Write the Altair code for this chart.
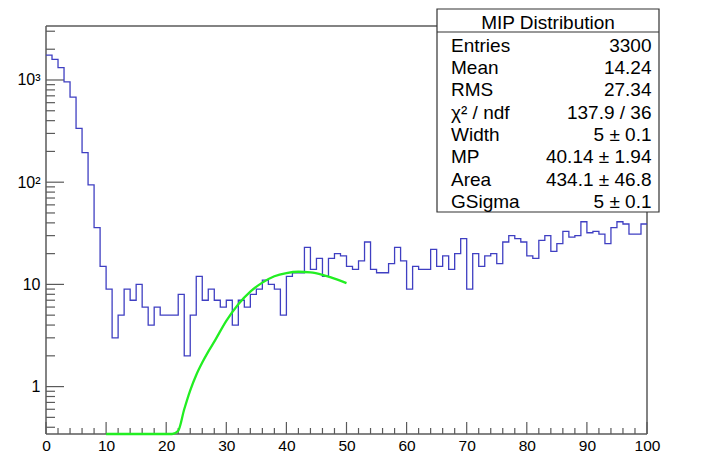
import altair as alt
import pandas as pd

# ---------------- data ----------------
bin_low_edges = list(range(100))
bin_counts = [
    1750, 1590, 1320, 960, 680, 336, 195, 94, 36, 15,
    9, 3, 5, 9, 7, 10, 6, 4, 6, 5,
    5, 5, 8, 2, 5, 12, 7, 9, 7, 6,
    7, 4, 7, 6, 8, 9, 11, 10, 9, 5,
    12, 13, 13, 23, 14, 18, 12, 18, 20, 19,
    15, 14, 17, 26, 14, 13, 13, 16, 23, 17,
    9, 15, 14, 14, 22, 15, 19, 14, 20, 28,
    9, 20, 15, 19, 20, 16, 26, 30, 28, 26,
    19, 18, 27, 30, 21, 25, 33, 29, 30, 41,
    32, 33, 31, 25, 36, 41, 39, 31, 31, 39,
]
bin_width = 1

fit_x = [10, 12, 14, 16, 18, 20, 21, 22, 23, 24, 25, 26, 27, 28, 30, 32, 34, 36, 38, 40, 42, 44, 46, 48, 50]
fit_y = [0.0005, 0.001, 0.003, 0.008, 0.02, 0.08, 0.2, 0.37, 0.6, 0.92, 1.3, 1.72, 2.2, 2.75, 4.4,
         6.4, 8.5, 10.4, 12.0, 12.9, 13.3, 13.1, 12.4, 11.4, 10.3]

x_major_ticks = [0, 10, 20, 30, 40, 50, 60, 70, 80, 90, 100]
x_minor_ticks = [2, 4, 6, 8, 12, 14, 16, 18, 22, 24, 26, 28, 32, 34, 36, 38, 42, 44, 46, 48,
                 52, 54, 56, 58, 62, 64, 66, 68, 72, 74, 76, 78, 82, 84, 86, 88, 92, 94, 96, 98]
y_major_ticks = [1, 10, 100, 1000]
y_tick_labels = ["1", "10", "10²", "10³"]
y_minor_ticks = [0.4, 0.5, 0.6, 0.7, 0.8, 0.9,
                 2, 3, 4, 5, 6, 7, 8, 9,
                 20, 30, 40, 50, 60, 70, 80, 90,
                 200, 300, 400, 500, 600, 700, 800, 900,
                 2000, 3000]
y_range = [0.3437, 3375]
x_range = [0, 100]

box_title = "MIP Distribution"
stat_labels = ["Entries", "Mean", "RMS", "χ² / ndf", "Width", "MP", "Area", "GSigma"]
stat_values = ["3300", "14.24", "27.34", "137.9 / 36", "5 ± 0.1", "40.14 ± 1.94", "434.1 ± 46.8", "5 ± 0.1"]

# ---------------- styling / layout ----------------
W, H = 601, 408
FONT = "Liberation Sans"
AXC = "#5a5a5a"
HIST_C = "#3f3fc2"
FIT_C = "#22ee22"

xs = alt.Scale(domain=x_range, nice=False, zero=False)
ys = alt.Scale(type="log", domain=y_range, nice=False, clamp=True)

label_expr = " : ".join(
    f"datum.value == {v} ? '{t}'" for v, t in zip(y_major_ticks, y_tick_labels)
) + " : ''"

x_axis = alt.Axis(values=x_major_ticks, format="d", domain=False, ticks=False, tickSize=0,
                  grid=False, title=None, labelPadding=4, labelFontSize=15.5, labelFont=FONT,
                  labelColor="#000000", labelFlush=False, labelOverlap=False)
y_axis = alt.Axis(values=y_major_ticks, labelExpr=label_expr, domain=False, ticks=False,
                  tickSize=0, grid=False, title=None, labelPadding=6, labelFontSize=16,
                  labelFont=FONT, labelColor="#000000", labelFlush=False, labelOverlap=False)

one = pd.DataFrame({"a": [0]})

hist_df = pd.DataFrame({
    "x": bin_low_edges + [bin_low_edges[-1] + bin_width],
    "y": bin_counts + [bin_counts[-1]],
})
fit_df = pd.DataFrame({"x": fit_x, "y": fit_y})

layers = []

# frame
frame_specs = [
    dict(x=alt.value(0), x2=alt.value(0), y=alt.value(0), y2=alt.value(H)),
    dict(x=alt.value(0), x2=alt.value(W), y=alt.value(H), y2=alt.value(H)),
    dict(x=alt.value(0), x2=alt.value(W), y=alt.value(0), y2=alt.value(0)),
    dict(x=alt.value(W), x2=alt.value(W), y=alt.value(0), y2=alt.value(H)),
]
for fs in frame_specs:
    layers.append(alt.Chart(one).mark_rule(color=AXC, strokeWidth=1.5).encode(**fs))

# x ticks (inside)
layers.append(alt.Chart(pd.DataFrame({"x": x_major_ticks})).mark_rule(color=AXC, strokeWidth=1.2).encode(
    x=alt.X("x:Q", scale=xs, axis=x_axis), y=alt.value(H), y2=alt.value(H - 12)))
layers.append(alt.Chart(pd.DataFrame({"x": x_minor_ticks})).mark_rule(color=AXC, strokeWidth=1.2).encode(
    x=alt.X("x:Q", scale=xs, axis=x_axis), y=alt.value(H), y2=alt.value(H - 6)))
# y ticks (inside)
layers.append(alt.Chart(pd.DataFrame({"y": y_major_ticks})).mark_rule(color=AXC, strokeWidth=1.2).encode(
    y=alt.Y("y:Q", scale=ys, axis=y_axis), x=alt.value(0), x2=alt.value(18)))
layers.append(alt.Chart(pd.DataFrame({"y": y_minor_ticks})).mark_rule(color=AXC, strokeWidth=1.2).encode(
    y=alt.Y("y:Q", scale=ys, axis=y_axis), x=alt.value(0), x2=alt.value(9)))

# histogram
layers.append(alt.Chart(hist_df).mark_line(interpolate="step-after", color=HIST_C, strokeWidth=1.3,
                                           clip=True).encode(
    x=alt.X("x:Q", scale=xs, axis=x_axis), y=alt.Y("y:Q", scale=ys, axis=y_axis)))

# fit curve
layers.append(alt.Chart(fit_df).mark_line(interpolate="monotone", color=FIT_C, strokeWidth=2.3).encode(
    x=alt.X("x:Q", scale=xs, axis=x_axis), y=alt.Y("y:Q", scale=ys, axis=y_axis)))

# stats box
BX0, BX1, BY0, BY1 = 391, 613, -17, 186
layers.append(alt.Chart(one).mark_rect(fill="white", stroke="#333333", strokeWidth=1.2).encode(
    x=alt.value(BX0), x2=alt.value(BX1), y=alt.value(BY0), y2=alt.value(BY1)))
layers.append(alt.Chart(one).mark_rule(color="#333333", strokeWidth=1.2).encode(
    x=alt.value(BX0), x2=alt.value(BX1), y=alt.value(6), y2=alt.value(6)))
layers.append(alt.Chart(one).mark_text(align="center", baseline="alphabetic", font=FONT, fontSize=19,
                                       color="black").encode(
    x=alt.value((BX0 + BX1) / 2), y=alt.value(2.5), text=alt.value(box_title)))

row0, step = 25.7, 22.35
for i, (lab, val) in enumerate(zip(stat_labels, stat_values)):
    yy = row0 + i * step
    layers.append(alt.Chart(one).mark_text(align="left", baseline="alphabetic", font=FONT, fontSize=19,
                                           color="black").encode(
        x=alt.value(405), y=alt.value(yy), text=alt.value(lab)))
    layers.append(alt.Chart(one).mark_text(align="right", baseline="alphabetic", font=FONT, fontSize=19,
                                           color="black").encode(
        x=alt.value(605.5), y=alt.value(yy), text=alt.value(val)))

chart = alt.layer(*layers).properties(
    width=W, height=H,
    padding={"left": 38, "top": 18, "right": 14, "bottom": 19},
    autosize=alt.AutoSizeParams(type="none"),
).configure_view(stroke=None)

chart.save("out.html", embed_options={"renderer": "svg", "actions": False})
